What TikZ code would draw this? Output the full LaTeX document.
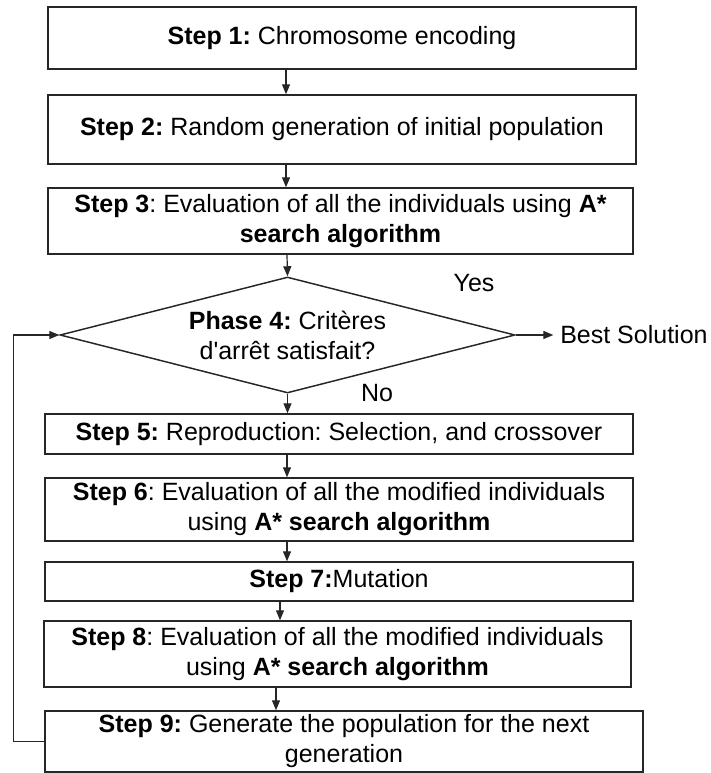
\documentclass[tikz,border=0pt]{standalone}
\usepackage{fontspec}
\setmainfont{Liberation Sans}
\usetikzlibrary{arrows.meta,shapes.geometric}
\frenchspacing
\begin{document}
\begin{tikzpicture}[x=0.75pt,y=-0.75pt,
  every node/.style={font=\fontsize{18.75pt}{22.5pt}\selectfont\frenchspacing, align=center, inner sep=0pt, text=black},
  box/.style={draw=black!85, line width=1.1pt, rectangle},
  arr/.style={draw=black!85, line width=0.9pt, -{Triangle[length=7.5pt,width=6pt]}}]
\useasboundingbox (0,0) rectangle (710,773);

\node[box, minimum width=441pt, minimum height=46.5pt] (s1) at (342,38) {\textbf{Step 1:} Chromosome encoding};
\node[box, minimum width=441pt, minimum height=51.75pt] (s2) at (342,129.5) {\textbf{Step 2:} Random generation of initial population};
\node[box, minimum width=438.75pt, minimum height=49.5pt] (s3) at (340.5,221) {\textbf{Step 3}: Evaluation of all the individuals using \textbf{A*}\\\textbf{search algorithm}};
\node[draw=black!85, line width=1.1pt, diamond, shape aspect=3.92, minimum width=341.25pt, minimum height=87pt] (d4) at (287.5,335) {\textbf{Phase 4:} Critères\\d\textquotesingle arrêt satisfait?};
\node[box, minimum width=441pt, minimum height=30pt] (s5) at (339,434) {\textbf{Step 5:} Reproduction: Selection, and crossover};
\node[box, minimum width=441pt, minimum height=47.25pt] (s6) at (339,509.5) {\textbf{Step 6}: Evaluation of all the modified individuals\\using \textbf{A* search algorithm}};
\node[box, minimum width=441pt, minimum height=29.25pt] (s7) at (339,581.5) {\textbf{Step 7:}Mutation};
\node[box, minimum width=440.25pt, minimum height=49.5pt] (s8) at (337.5,654) {\textbf{Step 8}: Evaluation of all the modified individuals\\using \textbf{A* search algorithm}};
\node[box, minimum width=448.5pt, minimum height=45.75pt] (s9) at (344,741.5) {\textbf{Step 9:} Generate the population for the next\\generation};

\node[anchor=west] (best) at (560,335) {Best Solution};
\node (yes) at (474,283) {Yes};
\node (no) at (377,393) {No};

\coordinate (c1) at (286,0);
\coordinate (c2) at (287,0);
\coordinate (c78) at (280,0);
\coordinate (c89) at (276,0);

\draw[arr] (s1.south -| c1) -- (s2.north -| c1);
\draw[arr] (s2.south -| c1) -- (s3.north -| c1);
\draw[arr] (s3.south -| c2) -- (d4.north);
\draw[arr] (d4.south) -- (s5.north -| d4.south);
\draw[arr] (s5.south -| c2) -- (s6.north -| c2);
\draw[arr] (s6.south -| c2) -- (s7.north -| c2);
\draw[arr] (s7.south -| c78) -- (s8.north -| c78);
\draw[arr] (s8.south -| c89) -- (s9.north -| c89);
\draw[arr, shorten >=5pt] (d4.east) -- (best.west);
\draw[arr] (s9.west) -- ++(-31,0) |- (d4.west);
\end{tikzpicture}
\end{document}
